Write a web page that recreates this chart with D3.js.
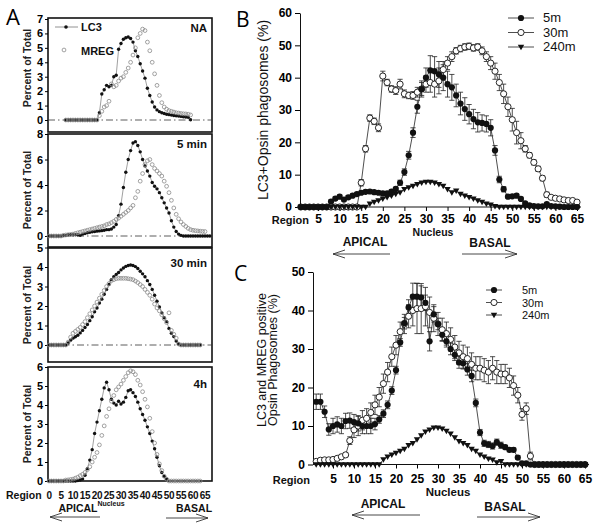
<!DOCTYPE html>
<html lang="en">
<head>
<meta charset="UTF-8">
<title>LC3 / MREG opsin phagosomes by region</title>
<script src="https://cdn.jsdelivr.net/npm/d3@7"></script>
<style>
  body { margin: 0; background: #fff; }
  svg { display: block; }
</style>
</head>
<body>
<svg id="chart" width="604" height="528"></svg>
<script>
// ---------------- data ----------------
// panel A: percent of total per region (first region of each array in *Start)
const naStart = 7;
const naLC3 = [0,0,0,0,0,0,0,0,0,0,0,0,0,0,
  0.5,1.8,2.1,2.4,2.3,2.4,3.0,3.1,4.9,5.3, 5.6,5.7,5.75,5.65,5.4,4.8,4.4,3.9,3.4,2.9,
  2.2,1.7,1.25,0.9,0.7,0.58,0.5,0.45,0.4,0.37, 0.34,0.31,0.29,0.27,0.25,0.23,0.21,0.19,0.02];
const naMREG = [0,0,0,0,0,0,0,0,0,0,0,0,0,0,
  0.3,0.6,0.9,1.0,1.3,2.5,2.3,2.4,2.7,2.9, 3.0,3.3,3.6,4.0,4.5,5.0,5.7,6.0,6.3,6.2,
  5.4,4.8,4.0,3.2,2.4,1.7,1.2,0.9,0.75,0.65, 0.6,0.55,0.5,0.48,0.45,0.43,0.42,0.4,0.35];

const min5Start = 0;
const min5LC3 = [0,0,0,0,0,0,0.05,0.05,0.1,0.1, 0.1,0.1,0.1,0.05,0.15,0.2,0.25,0.3,0.33,0.35,
  0.38,0.4,0.42,0.45,0.5,0.5,0.55,0.7,0.9,1.6, 2.5,3.8,5.0,6.0,6.7,7.3,7.4,7.1,6.6,6.0,
  5.5,5.1,4.7,4.2,3.9,3.7,3.4,3.0,2.6,2.2, 1.8,1.2,0.7,0.35,0.15,0.05,0,0,0,0, 0,0,0,0,0,0,0,0];
const min5MREG = [0,0,0,0,0,0,0.05,0.08,0.1,0.12, 0.15,0.2,0.25,0.3,0.35,0.4,0.45,0.5,0.55,0.6,
  0.65,0.7,0.75,0.8,0.9,0.95,1.05,1.15,1.3,1.4, 1.55,1.7,1.85,2.0,2.2,2.4,3.0,3.5,4.3,4.9,
  5.6,5.9,6.0,5.6,5.3,5.1,4.9,4.7,4.3,3.9, 3.4,2.8,2.2,1.7,1.35,1.1,0.9,0.75,0.6,0.5,
  0.45,0.42,0.4,0.38,0.36,0.35];

const min30Start = 0;
const min30LC3 = [0,0,0,0,0,0,0,0,0.1,0.25, 0.35,0.42,0.5,0.62,0.75,0.9,1.05,1.25,1.45,1.7,
  1.9,2.15,2.35,2.6,2.85,3.1,3.35,3.5,3.62,3.72, 3.85,3.95,4.03,4.08,4.1,4.08,4.02,3.92,3.78,3.65,
  3.5,3.3,3.1,2.85,2.55,2.25,1.95,1.65,1.4,1.2, 0.85,0.6,0.43,0.2,0.05,0,0,0,0,0, 0,0,0,0];
const min30MREG = [0,0,0,0,0,0,0,0,0.15,0.4, 0.6,0.7,0.8,0.9,1.05,1.2,1.4,1.6,1.8,2.0,
  2.2,2.4,2.6,2.8,3.0,3.15,3.3,3.35,3.4,3.42, 3.42,3.42,3.42,3.4,3.38,3.35,3.28,3.2,3.1,3.0,
  2.85,2.7,2.55,2.35,2.1,1.9,1.75,1.55,1.35,1.15, 1.65,0.75,0.55,0.35,0.05,0,0,0,0,0, 0,0,0,0];

const h4Start = 0;
const h4LC3 = [0,0,0,0,0,0,0,0,0,0, 0,0,0.02,0.05,0.1,0.3,0.65,1.1,1.65,2.5,
  3.1,3.7,4.3,4.9,5.2,4.8,4.3,4.1,4.0,4.2, 4.05,4.15,4.4,4.75,4.8,4.65,4.45,4.15,3.8,3.5,
  3.2,2.85,2.5,2.1,1.7,1.25,0.8,0.45,0.25,0.1];
const h4MREG = [0,0,0,0,0,0,0,0.05,0.06,0.08, 0.1,0.15,0.2,0.28,0.35,0.45,0.6,0.75,1.0,1.25,
  1.5,1.9,2.4,2.9,3.4,3.8,4.2,4.5,4.8,4.95, 5.1,5.3,5.5,5.7,5.8,5.75,5.6,5.3,5.05,4.7,
  4.3,3.9,3.3,2.6,2.0,1.4,0.9,0.55,0.25,0.1, 0,0,0,0,0,0,0,0,0,0, 0,0,0,0];

const regionTicksA = [0,5,10,15,20,25,30,35,40,45,50,55,60,65];

// panels B and C: regions 1..65
const regions = d3.range(1, 66);
const regionTicks = [5,10,15,20,25,30,35,40,45,50,55,60,65];
const seriesNames = ['5m', '30m', '240m'];

// B: LC3+Opsin phagosomes (%)
const b5m = [0,0,0,0,0,0,0, 1.7,2.6,3.2,2.3,3.0,3.5,4.0,4.4,4.7,4.8,
  4.6,4.4,4.2,4.2,4.8,5.6,7.5,10.8,16,23, 31,36.5,40,42.3,42,41,40,38,37,34.5,
  32,30.3,28.7,27.2,26.2,26,25.7,24.5,17.5,8.5, 5.5,3.2,3.3,3.5,2.5,1.1,0.5,0.3,0.2,0.2,
  0.9,0.3,0.2,0.1,0,0,0,0];
const b5mErr = [0,0,0,0,0,0,0, 0.5,0.5,0.5,0.5,0.5,0.5,0.5,0.5,0.5,0.5,
  0.5,0.5,0.5,0.5,0.5,0.5,0.8,1,1.2,1.5, 2,2.5,3,4.5,4.5,4,4,4,4,3.5,
  3.5,3.5,3,3,3,2.5,2.5,2.5,1.5,1, 0.8,0.5,0.5,0.5,0.5,0.3,0.3,0,0,0,
  0.3,0,0,0,0,0,0,0];
const b30m = [0,0,0,0,0,0,0,0,0,0,0,0,0,0,
  7.5,18,27.5,26.5,24.5,40.5,38.5,36.5,36,38, 35,34.5,34.5,35.5,36.5,38,38.5,38,39,42.5,
  44.5,46.5,48.3,49,49.5,49.7,49.2,49.5,48.3,46.5, 44.5,42,38.5,35,31,27,23,20.5,18,16,
  13.8,11.8,8.9,3.8,3,2.7,2.5,2.2,2,2, 1.5];
const b30mErr = [0,0,0,0,0,0,0,0,0,0,0,0,0,0,
  1,1,1,1,1.2,1.5,1,1,1.2,1.5, 1.2,1,1.2,1.5,2,2.5,3,4,4,2.5,
  2,1.5,1,1,1,1,1,1,1.2,1.5, 2,2.5,2.5,3,3,3.5,3.5,2.5,1,0.8,
  0.8,0.8,0.8,0.8,0.5,0.5,0.5,0.3,0.3,0.3, 0.3];
const b240m = [0,0,0,0,0,0,0,0,0,0,0,0,0,0,0,0,
  1,1.5,2,2.5,3,3.5,4,4.5, 5.5,6,6.5,7,7.5,7.7,7.7,7.5,7,6.5,
  5.5,4.5,5,4,3.5,3,2.5,2,1.5,1, 0.7,0.2,
  0,0,0,0,0,0,0,0,0,0,0,0,0,0,0,0,0,0,0];

// C: LC3 and MREG positive opsin phagosomes (%)
const c5m = [16.3,16.3,13.7,9.1,10,10.4,10,11.3,11.4,11, 10.7,10,10,10,10.5,11.7,13.2,15.5,19.2,24.5,
  31.7,36.7,40.8,43.6,43.6,43.4,42,32,39,36.5, 33.7,32,30,28.5,26.5,26.3,24.7,23,16,8.3,
  5.5,5.2,4.8,5.8,5,4.5,3.8,3.8,1.8,0.3, 0.3,0,0,0,0,0,0,0,0,0, 0,0,0,0,0];
const c5mErr = [2,2,1.5,1.5,2,2,2,2,2,2, 2,2,2,2,1.5,1,1,1,1,1,
  1,1.5,2,3.5,3.5,3,2,2.5,2,1.5, 1.5,1.5,1.5,1.5,1.5,1.5,1.5,1.5,1,0.8,
  0.8,0.8,0.8,0.8,0.8,0.5,0.5,0.5,0.5,0.3, 0,0,0,0,0,0,0,0,0,0, 0,0,0,0,0];
const c30m = [0.8,1.1,1.2,1.2,1.3,1.6,2,2.5,6.2,9, 10,11.5,12,13.5,15.5,17.5,21,24,28,31,
  34.5,36.5,38.5,40,40.5,40.5,41,39.5,38,36.5, 35,34,32.5,30.5,29,28,27.5,26,25,25,
  24.5,24,25,24,23.5,23.5,22.5,20.5,18,13, 14.5,2.2,0,0,0,0,0,0,0,0, 0,0,0,0,0];
const c30mErr = [0.3,0.3,0.3,0.3,0.3,0.3,0.5,0.5,1,2, 2.5,2.5,2.5,2.5,2.5,2.5,2.5,2.5,2.5,2.5,
  2.5,2.5,3,4,6.5,6.5,5,4,3.5,3, 3,3,3,3,3,3,3,3,3,3,
  3,3,3,3,2.5,2.5,2.5,2.5,2,1.5, 1.5,1,0,0,0,0,0,0,0,0, 0,0,0,0,0];
const c240m = [0,0,0,0,0,0,0,0,0,0,0,0,0,0,0,0,
  1.3,2,2.5,3,3.5,4,5,5.5, 6.5,7.5,8.5,9,9.5,9.5,9.3,8.7,8,7,
  6,5.5,5,4,3.5,2.5,2,1.5,1.2,0.5, 0.8,
  0,0,0,0,0,0,0,0,0,0,0,0,0,0,0,0,0,0,0,0];

// ---------------- drawing ----------------
const svg = d3.select('#chart');
const font = '"Liberation Sans", Arial, sans-serif';

function arrow(g, x1, x2, y, dir) {
  g.append('line').attr('x1', x1).attr('x2', x2).attr('y1', y).attr('y2', y)
    .attr('stroke', '#333').attr('stroke-width', 0.9);
  const tip = dir < 0 ? x1 : x2;
  const back = tip - dir * 12;
  g.append('path').attr('d', `M${back},${y - 4}L${tip},${y}L${back},${y + 4}`)
    .attr('fill', 'none').attr('stroke', '#333').attr('stroke-width', 0.9);
}

function label(g, x, y, txt, size, anchor, weight) {
  return g.append('text').attr('x', x).attr('y', y).attr('font-family', font)
    .attr('font-size', size).attr('font-weight', weight || 'bold')
    .attr('text-anchor', anchor || 'middle').attr('fill', '#111').text(txt);
}

// panel letters
svg.append('text').attr('x', 6).attr('y', 25).attr('font-family', '"Open Sans", sans-serif')
  .attr('font-size', 22).text('A');
svg.append('text').attr('x', 236).attr('y', 27).attr('font-family', '"Open Sans", sans-serif')
  .attr('font-size', 21).text('B');
svg.append('text').attr('x', 234).attr('y', 281).attr('font-family', '"Open Sans", sans-serif')
  .attr('font-size', 21).text('C');

// ===== panel A =====
const xA = d3.scaleLinear().domain([0, 65]).range([49, 205]);
const boxL = 48, boxR = 212;
const aPanels = [
  {title: 'NA', top: 18, bottom: 132, y0: 120, y1: 19, max: 7, step: 1, titleY: 32, cy: 68,
   start: naStart, lc3: naLC3, mreg: naMREG, zero: true},
  {title: '5 min', top: 134, bottom: 247, y0: 236, y1: 134, max: 8, step: 2, titleY: 148, cy: 190,
   start: min5Start, lc3: min5LC3, mreg: min5MREG, zero: true},
  {title: '30 min', top: 248, bottom: 362, y0: 345, y1: 247.5, max: 5, step: 1, titleY: 267, cy: 305,
   start: min30Start, lc3: min30LC3, mreg: min30MREG, zero: true},
  {title: '4h', top: 367, bottom: 481, y0: 481, y1: 367, max: 6, step: 1, titleY: 388, cy: 424,
   start: h4Start, lc3: h4LC3, mreg: h4MREG, zero: false}
];

const gA = svg.append('g');
aPanels.forEach(p => {
  const g = gA.append('g');
  const y = d3.scaleLinear().domain([0, p.max]).range([p.y0, p.y1]);
  g.append('rect').attr('x', boxL).attr('y', p.top).attr('width', boxR - boxL)
    .attr('height', p.bottom - p.top).attr('fill', 'none').attr('stroke', '#111').attr('stroke-width', 1.6);
  if (p.zero) {
    g.append('line').attr('x1', boxL).attr('x2', boxR).attr('y1', y(0)).attr('y2', y(0))
      .attr('stroke', '#333').attr('stroke-width', 0.8).attr('stroke-dasharray', '7,3,1.5,3');
  }
  g.append('g').attr('transform', `translate(${boxL},0)`)
    .call(d3.axisLeft(y).tickValues(d3.range(0, p.max + 0.01, p.step)).tickFormat(d3.format('d'))
      .tickSize(3).tickSizeOuter(0).tickPadding(2))
    .call(a => a.select('.domain').remove())
    .attr('font-family', font).attr('font-size', 11).attr('font-weight', 'bold');
  g.append('text').attr('transform', `translate(31,${p.cy}) rotate(-90)`).attr('text-anchor', 'middle')
    .attr('font-family', font).attr('font-size', 10.5).attr('font-weight', 'bold').attr('fill', '#222')
    .text('Percent of Total');
  label(g, 207, p.titleY, p.title, 11.5, 'end');

  const lc3Pts = p.lc3.map((v, i) => ({r: p.start + i, v}));
  const mregPts = p.mreg.map((v, i) => ({r: p.start + i, v}));
  g.append('path').datum(lc3Pts)
    .attr('d', d3.line().x(d => xA(d.r)).y(d => y(d.v)))
    .attr('fill', 'none').attr('stroke', '#777').attr('stroke-width', 0.7);
  g.selectAll('.lc3').data(lc3Pts).join('circle').attr('class', 'lc3')
    .attr('cx', d => xA(d.r)).attr('cy', d => y(d.v)).attr('r', 1.7).attr('fill', '#111');
  g.selectAll('.mreg').data(mregPts).join('circle').attr('class', 'mreg')
    .attr('cx', d => xA(d.r)).attr('cy', d => y(d.v)).attr('r', 1.9)
    .attr('fill', 'none').attr('stroke', '#8a8a8a').attr('stroke-width', 0.8);
});

// legend in NA
gA.append('line').attr('x1', 55).attr('x2', 78).attr('y1', 27).attr('y2', 27).attr('stroke', '#777').attr('stroke-width', 0.8);
gA.append('circle').attr('cx', 66).attr('cy', 27).attr('r', 1.8).attr('fill', '#111');
label(gA, 81, 31, 'LC3', 11, 'start');
gA.append('circle').attr('cx', 64).attr('cy', 50).attr('r', 1.9).attr('fill', 'none').attr('stroke', '#8a8a8a').attr('stroke-width', 0.8);
label(gA, 81, 55, 'MREG', 11, 'start');

// bottom labels of A
label(gA, 6, 499, 'Region', 10.5, 'start');
gA.selectAll('.xt').data(regionTicksA).join('text').attr('class', 'xt')
  .attr('x', d => xA(d)).attr('y', 499).attr('text-anchor', 'middle')
  .attr('font-family', font).attr('font-size', 10).attr('font-weight', 'bold')
  .attr('letter-spacing', -0.4).attr('fill', '#111')
  .text(d => d);
label(gA, 111, 506, 'Nucleus', 7);
label(gA, 78, 512, 'APICAL', 10.5);
label(gA, 194, 512, 'BASAL', 10.5);
arrow(gA, 50, 100, 517, -1);
arrow(gA, 166, 208, 518, 1);

// ===== panels B and C =====
function markers(g, pts, type, x, y) {
  if (type === 'filled') {
    g.selectAll(null).data(pts).join('circle').attr('cx', d => x(d.r)).attr('cy', d => y(d.v))
      .attr('r', 3.1).attr('fill', '#111');
  } else if (type === 'open') {
    g.selectAll(null).data(pts).join('circle').attr('cx', d => x(d.r)).attr('cy', d => y(d.v))
      .attr('r', 3.1).attr('fill', '#fff').attr('stroke', '#111').attr('stroke-width', 0.9);
  } else {
    g.selectAll(null).data(pts).join('path')
      .attr('transform', d => `translate(${x(d.r)},${y(d.v)})`)
      .attr('d', 'M-3.2,-2.3L3.2,-2.3L0,3.2Z').attr('fill', '#111');
  }
}

function errorBars(g, pts, x, y) {
  const e = g.selectAll(null).data(pts.filter(d => d.e > 0)).join('g');
  e.append('line').attr('x1', d => x(d.r)).attr('x2', d => x(d.r))
    .attr('y1', d => y(d.v - d.e)).attr('y2', d => y(d.v + d.e)).attr('stroke', '#222').attr('stroke-width', 0.8);
  e.append('line').attr('x1', d => x(d.r) - 2.6).attr('x2', d => x(d.r) + 2.6)
    .attr('y1', d => y(d.v + d.e)).attr('y2', d => y(d.v + d.e)).attr('stroke', '#222').attr('stroke-width', 0.8);
  e.append('line').attr('x1', d => x(d.r) - 2.6).attr('x2', d => x(d.r) + 2.6)
    .attr('y1', d => y(d.v - d.e)).attr('y2', d => y(d.v - d.e)).attr('stroke', '#222').attr('stroke-width', 0.8);
}

function scatterPanel(cfg) {
  const g = svg.append('g');
  const {x, y} = cfg;
  // y axis
  g.append('g').attr('transform', `translate(${cfg.axisX},0)`)
    .call(d3.axisLeft(y).tickValues(d3.range(0, cfg.max + 1, 10)).tickSize(5).tickSizeOuter(0).tickPadding(3).tickFormat(d3.format('d')))
    .attr('font-family', font).attr('font-size', 12).attr('font-weight', 'bold')
    .call(a => a.select('.domain').attr('stroke', '#111'));
  // x axis
  const xa = g.append('g').attr('transform', `translate(0,${y(0)})`)
    .call(d3.axisBottom(x).tickValues(regionTicks).tickSize(4).tickSizeOuter(0).tickPadding(cfg.xPad))
    .attr('font-family', font).attr('font-size', 12).attr('font-weight', 'bold');
  xa.select('.domain').remove();
  g.append('line').attr('x1', cfg.axisX).attr('x2', x(65) + 4).attr('y1', y(0)).attr('y2', y(0))
    .attr('stroke', '#111');
  label(g, cfg.regionX, cfg.tickY, 'Region', 11, 'end');
  label(g, cfg.nucX, cfg.nucY, 'Nucleus', cfg.nucFont);
  label(g, cfg.apX, cfg.apY, 'APICAL', 12);
  label(g, cfg.baX, cfg.baY, 'BASAL', 12);
  arrow(g, cfg.apArrow[0], cfg.apArrow[1], cfg.apArrow[2], -1);
  arrow(g, cfg.baArrow[0], cfg.baArrow[1], cfg.baArrow[2], 1);

  const pts = cfg.series.map(s => regions.map((r, i) => ({r, v: s.values[i], e: s.err ? s.err[i] : 0})));
  // lines
  pts.forEach(p => g.append('path').datum(p)
    .attr('d', d3.line().x(d => x(d.r)).y(d => y(d.v)))
    .attr('fill', 'none').attr('stroke', '#222').attr('stroke-width', 0.8));
  // error bars
  pts.forEach(p => errorBars(g, p, x, y));
  // markers: 30m, 240m, then 5m on top
  [1, 2, 0].forEach(k => markers(g, pts[k], cfg.series[k].type, x, y));

  // legend
  cfg.series.forEach((s, i) => {
    const ly = cfg.legY + i * cfg.legStep;
    g.append('line').attr('x1', cfg.legX - cfg.legHalf).attr('x2', cfg.legX + cfg.legHalf)
      .attr('y1', ly).attr('y2', ly).attr('stroke', '#222').attr('stroke-width', 0.8);
    markers(g, [{r: 0, v: 0}], s.type, () => cfg.legX, () => ly);
    label(g, cfg.legTextX, ly + 4, seriesNames[i], cfg.legFont, 'start', 'normal');
  });
  return g;
}

// B
const gB = scatterPanel({
  x: d3.scaleLinear().domain([0, 65]).range([296.5, 577]),
  y: d3.scaleLinear().domain([0, 60]).range([207, 13]),
  max: 60, axisX: 300, xPad: 3, tickY: 223.5, regionX: 309,
  nucX: 433, nucY: 236, nucFont: 10.5, apX: 365, apY: 246, baX: 490, baY: 247,
  apArrow: [333, 390, 254], baArrow: [462, 517, 254],
  legX: 521, legHalf: 13, legTextX: 543, legY: 18, legStep: 14.5, legFont: 13,
  series: [
    {values: b5m, err: b5mErr, type: 'filled'},
    {values: b30m, err: b30mErr, type: 'open'},
    {values: b240m, err: null, type: 'tri'}
  ]
});
gB.append('text').attr('transform', 'translate(268,110) rotate(-90)').attr('text-anchor', 'middle')
  .attr('font-family', font).attr('font-size', 14).attr('fill', '#111').text('LC3+Opsin phagosomes (%)');

// C
const gC = scatterPanel({
  x: d3.scaleLinear().domain([0, 65]).range([312, 585]),
  y: d3.scaleLinear().domain([0, 50]).range([464.5, 272]),
  max: 50, axisX: 313, xPad: 6, tickY: 484, regionX: 310,
  nucX: 448, nucY: 496, nucFont: 11.5, apX: 383, apY: 508, baX: 505, baY: 511,
  apArrow: [352, 420, 515], baArrow: [477, 540, 517],
  legX: 494, legHalf: 8, legTextX: 522, legY: 290, legStep: 12.5, legFont: 11,
  series: [
    {values: c5m, err: c5mErr, type: 'filled'},
    {values: c30m, err: c30mErr, type: 'open'},
    {values: c240m, err: null, type: 'tri'}
  ]
});
gC.append('text').attr('transform', 'translate(266,360) rotate(-90)').attr('text-anchor', 'middle')
  .attr('font-family', font).attr('font-size', 12.5).attr('fill', '#111').text('LC3 and MREG positive');
gC.append('text').attr('transform', 'translate(277,360) rotate(-90)').attr('text-anchor', 'middle')
  .attr('font-family', font).attr('font-size', 12.5).attr('fill', '#111').text('Opsin Phagosomes (%)');
</script>
</body>
</html>
